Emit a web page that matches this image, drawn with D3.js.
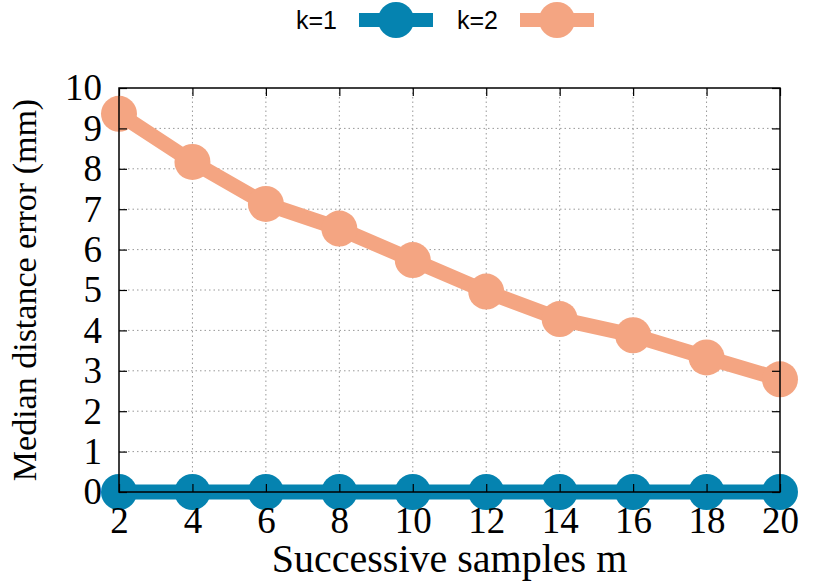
<!DOCTYPE html>
<html lang="en">
<head>
<meta charset="UTF-8">
<title>Median distance error</title>
<script src="https://cdn.jsdelivr.net/npm/d3@7"></script>
<style>
  body { margin: 0; background: #fff; }
  svg { display: block; }
</style>
</head>
<body>
<svg width="830" height="581"></svg>
<script>
// data
var samples = [2, 4, 6, 8, 10, 12, 14, 16, 18, 20];
var k1 = [0, 0, 0, 0, 0, 0, 0, 0, 0, 0];
var k2 = [9.36, 8.17, 7.13, 6.52, 5.74, 4.96, 4.28, 3.88, 3.33, 2.79];
var seriesNames = ["k=1", "k=2"];
var seriesColors = ["#0583b0", "#f4a582"];
var yTicks = [0, 1, 2, 3, 4, 5, 6, 7, 8, 9, 10];

var svg = d3.select("svg");
// plot box (note: "top" is a reserved window prop, so use plotTop etc.)
var plotLeft = 119, plotRight = 780, plotTop = 88, plotBottom = 492;

var x = d3.scaleLinear().domain([2, 20]).range([plotLeft, plotRight]);
var y = d3.scaleLinear().domain([0, 10]).range([plotBottom, plotTop]);

var serif = "'Liberation Serif', 'Times New Roman', serif";
var sans = "'Liberation Sans', Arial, sans-serif";

// grid
var grid = svg.append("g").attr("stroke", "#999").attr("stroke-width", 1)
    .attr("stroke-dasharray", "1.5,3");
grid.selectAll(".gx").data(samples.slice(1, -1)).enter().append("line")
    .attr("x1", function(d) { return x(d); }).attr("x2", function(d) { return x(d); })
    .attr("y1", plotTop).attr("y2", plotBottom);
grid.selectAll(".gy").data(yTicks.slice(1, -1)).enter().append("line")
    .attr("y1", function(d) { return y(d); }).attr("y2", function(d) { return y(d); })
    .attr("x1", plotLeft).attr("x2", plotRight);

// series
var series = [k1, k2];
series.forEach(function(vals, i) {
    var pts = samples.map(function(m, j) { return [m, vals[j]]; });
    svg.append("path")
        .datum(pts)
        .attr("fill", "none")
        .attr("stroke", seriesColors[i])
        .attr("stroke-width", 15)
        .attr("d", d3.line().x(function(d) { return x(d[0]); }).y(function(d) { return y(d[1]); }));
    svg.selectAll(".pt" + i).data(pts).enter().append("circle")
        .attr("cx", function(d) { return x(d[0]); })
        .attr("cy", function(d) { return y(d[1]); })
        .attr("r", 18)
        .attr("fill", seriesColors[i]);
});

// axes: ticks inward, mirrored
var yAxisL = d3.axisLeft(y).tickValues(yTicks).tickSizeInner(-8).tickSizeOuter(0).tickPadding(17);
var yAxisR = d3.axisRight(y).tickValues(yTicks).tickSizeInner(-8).tickSizeOuter(0).tickFormat("");
var xAxisB = d3.axisBottom(x).tickValues(samples).tickSizeInner(-8).tickSizeOuter(0).tickPadding(15);
var xAxisT = d3.axisTop(x).tickValues(samples).tickSizeInner(-8).tickSizeOuter(0).tickFormat("");

function styleAxis(g) {
    g.select(".domain").remove();
    g.selectAll(".tick line").attr("stroke", "#000").attr("stroke-width", 1.2);
    g.selectAll("text").attr("font-family", serif).attr("font-size", 37).attr("fill", "#000");
}
svg.append("g").attr("transform", "translate(" + plotLeft + ",0)").call(yAxisL).call(styleAxis);
svg.append("g").attr("transform", "translate(" + plotRight + ",0)").call(yAxisR).call(styleAxis);
svg.append("g").attr("transform", "translate(0," + plotBottom + ")").call(xAxisB).call(styleAxis);
svg.append("g").attr("transform", "translate(0," + plotTop + ")").call(xAxisT).call(styleAxis);

// border on top of everything
svg.append("rect")
    .attr("x", plotLeft).attr("y", plotTop)
    .attr("width", plotRight - plotLeft).attr("height", plotBottom - plotTop)
    .attr("fill", "none").attr("stroke", "#000").attr("stroke-width", 1.5);

// axis titles
svg.append("text")
    .attr("x", (plotLeft + plotRight) / 2).attr("y", 572)
    .attr("text-anchor", "middle")
    .attr("font-family", serif).attr("font-size", 40)
    .text("Successive samples m");
svg.append("text")
    .attr("transform", "translate(36," + (plotTop + plotBottom) / 2 + ") rotate(-90)")
    .attr("text-anchor", "middle")
    .attr("font-family", serif).attr("font-size", 34)
    .text("Median distance error (mm)");

// legend
var legendX = [337, 498];
seriesNames.forEach(function(name, i) {
    var lg = svg.append("g").attr("transform", "translate(" + legendX[i] + ",0)");
    lg.append("text").attr("x", 0).attr("y", 29).attr("text-anchor", "end")
        .attr("font-family", sans).attr("font-size", 25).text(name);
    lg.append("line").attr("x1", 22).attr("x2", 96).attr("y1", 20).attr("y2", 20)
        .attr("stroke", seriesColors[i]).attr("stroke-width", 14);
    lg.append("circle").attr("cx", 59).attr("cy", 20).attr("r", 18).attr("fill", seriesColors[i]);
});
</script>
</body>
</html>
